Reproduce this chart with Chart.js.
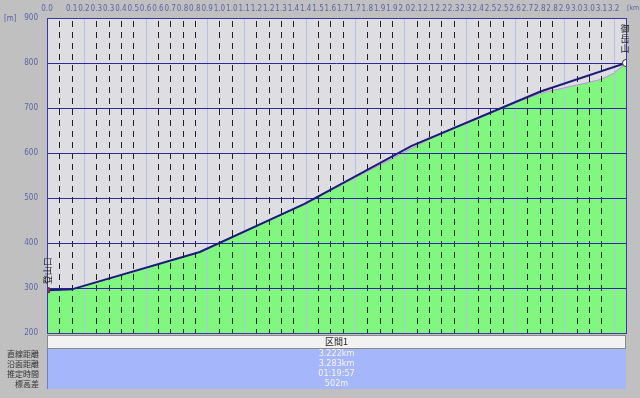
<!DOCTYPE html>
<html><head><meta charset="utf-8">
<script src="https://cdn.jsdelivr.net/npm/chart.js@4.4.1/dist/chart.umd.min.js"></script>
<style>
html,body{margin:0;padding:0;background:#c0c0c0;}
#wrap{width:640px;height:398px;position:relative;}
</style></head>
<body><div id="wrap"><canvas id="c" width="640" height="398"></canvas></div>
<script>
// ---- data ----
const xTickLabels = ["0.0","","0.1","0.2","0.3","0.3","0.4","0.5","0.6","0.6","0.7","0.8","0.8","0.9","1.0","1.0","1.1","1.2","1.2","1.3","1.4","1.4","1.5","1.6","1.7","1.7","1.8","1.9","1.9","2.0","2.1","2.1","2.2","2.3","2.3","2.4","2.5","2.5","2.6","2.7","2.8","2.8","2.9","3.0","3.0","3.1","3.2",""];
const terrainElev = [293,295,296,304,312,320,328,336,344,352,360,368,376,387,399,412,424,437,449,462,475,487,501,516,531,545,559,573,587,602,616,630,642,654,665,676,688,700,711,722,732,739,745,751,757,764,777,800];
const routeIdx = [0,2,12.4,20.9,29.6,40,47];
const routeElev = [295,297,380,487,616,736,800];
const lightGridIdx = [3,8,13,16,21,25,29,34,38,42,46];
const tableHeader = "区間1";
const tableLabels = ["直線距離","沿面距離","推定時間","標高差"];
const tableValues = ["3.222km","3.283km","01:19:57","502m"];
const startLabel = "登山口";
const endLabel = "御岳山";

const terrainPts = terrainElev.map((v,i)=>({x:i,y:v}));
const routePts = routeIdx.map((x,i)=>({x:x,y:routeElev[i]}));
const FONT = "'Liberation Sans Narrow','DejaVu Sans Condensed','Liberation Sans',sans-serif";

const gridPlugin = {
  id:'gridOver',
  beforeDraw(chart){
    const {ctx, chartArea:a} = chart;
    ctx.save();
    ctx.fillStyle = '#dedee2';
    ctx.fillRect(a.left, a.top, a.right-a.left, a.bottom-a.top);
    ctx.restore();
  },
  afterDatasetDraw(chart, args){
    if(args.index !== 0) return;
    const {ctx, chartArea:a, scales} = chart;
    const xs = scales.x, ys = scales.y;
    ctx.save();
    ctx.beginPath(); ctx.rect(a.left,a.top,a.right-a.left,a.bottom-a.top); ctx.clip();
    for(let i=1;i<xTickLabels.length-1;i++){
      const x = Math.round(xs.getPixelForValue(i))+0.5;
      ctx.beginPath();
      if(lightGridIdx.includes(i)){ ctx.setLineDash([]); ctx.strokeStyle='#b8c0ea'; }
      else { ctx.setLineDash([6,5]); ctx.lineDashOffset=-3; ctx.strokeStyle='#202020'; }
      ctx.lineWidth=1;
      ctx.moveTo(x,a.top); ctx.lineTo(x,a.bottom); ctx.stroke();
    }
    ctx.setLineDash([]);
    ctx.strokeStyle='#2a2aa0';
    ys.ticks.forEach(t=>{
      const y = Math.round(ys.getPixelForValue(t.value))+0.5;
      ctx.beginPath(); ctx.moveTo(a.left,y); ctx.lineTo(a.right,y); ctx.stroke();
    });
    ctx.restore();
  },
  afterDraw(chart){
    const {ctx, chartArea:a, scales} = chart;
    const xs = scales.x, ys = scales.y;
    ctx.save();
    ctx.strokeStyle='#3838a8'; ctx.lineWidth=1;
    ctx.strokeRect(Math.round(a.left)+0.5, Math.round(a.top)+0.5, Math.round(a.right-a.left), Math.round(a.bottom-a.top));
    ctx.fillStyle='#5a64a8'; ctx.font='8px '+FONT; ctx.textBaseline='middle';
    ctx.textAlign='left'; ctx.fillText('[m]',4,19);
    ctx.font='7px '+FONT;
    ctx.fillText('[km]',a.right+1,8);
    ctx.fillStyle='#202020'; ctx.font='9px "Noto Sans CJK JP",sans-serif';
    const sx = xs.getPixelForValue(routeIdx[0]), sy = ys.getPixelForValue(routeElev[0]);
    ctx.save(); ctx.translate(sx+1, sy-6); ctx.rotate(-Math.PI/2); ctx.textAlign='left'; ctx.fillText(startLabel,0,0); ctx.restore();
    const ex = xs.getPixelForValue(routeIdx[routeIdx.length-1]), ey = ys.getPixelForValue(routeElev[routeElev.length-1]);
    ctx.textAlign='center';
    Array.from(endLabel).forEach((ch,k)=>{ ctx.fillText(ch, ex-1, ey-34+k*10); });
    const L = Math.round(a.left), R = Math.round(a.right);
    const top = Math.round(a.bottom)+2;
    ctx.fillStyle='#f2f2f2'; ctx.fillRect(L, top, R-L, 13);
    ctx.strokeStyle='#8a8a8a'; ctx.strokeRect(L+0.5, top+0.5, R-L-1, 13);
    ctx.fillStyle='#a6b6fa'; ctx.fillRect(L, top+14, R-L, 40);
    ctx.strokeStyle='#7080c0'; ctx.beginPath(); ctx.moveTo(L+0.5, top+14); ctx.lineTo(L+0.5, top+54); ctx.stroke();
    ctx.font='9px "Noto Sans CJK JP",sans-serif'; ctx.textAlign='center'; ctx.fillStyle='#202020';
    ctx.fillText(tableHeader, (L+R)/2, top+7);
    tableLabels.forEach((t,k)=>{
      const y = top+19+k*10;
      ctx.font='8px "Noto Sans CJK JP",sans-serif';
      ctx.textAlign='right'; ctx.fillStyle='#303030'; ctx.fillText(t, L-8, y);
      ctx.font='9px '+FONT;
      ctx.textAlign='center'; ctx.fillStyle='#f6f6f6'; ctx.fillText(tableValues[k], (L+R)/2, y);
    });
    ctx.restore();
  }
};

new Chart(document.getElementById('c'), {
  type:'line',
  data:{datasets:[
    {label:'terrain', data:terrainPts, fill:'start', backgroundColor:'#80f880', borderColor:'#c488e0', borderWidth:1, pointRadius:0, tension:0, order:1},
    {label:'route', data:routePts, fill:false, borderColor:'#1c1c78', borderWidth:2, tension:0, order:0,
      pointRadius: routeIdx.map((v,i)=> (i===0||i===routeIdx.length-1)?3.5:0),
      pointStyle: routeIdx.map((v,i)=> i===0?'rect':'circle'),
      pointBackgroundColor: routeIdx.map((v,i)=> i===0?'#c83232':'#ffffff'),
      pointBorderColor: routeIdx.map((v,i)=> i===0?'#603030':'#303030'),
      pointBorderWidth:1}
  ]},
  options:{
    responsive:false, animation:false,
    layout:{padding:{left:0,right:14,top:0,bottom:65}},
    plugins:{legend:{display:false}, tooltip:{enabled:false}},
    scales:{
      x:{type:'linear', position:'top', min:0, max:xTickLabels.length-1,
        afterFit(s){ s.height=18; },
        grid:{display:false, drawTicks:false}, border:{display:false},
        ticks:{stepSize:1, autoSkip:false, maxRotation:0, padding:4, color:'#5a64a8',
          font:{size:8, family:FONT},
          callback:(v)=> xTickLabels[v] ?? ''}},
      y:{min:200, max:900,
        afterFit(s){ s.width=47; },
        grid:{display:false, drawTicks:false}, border:{display:false},
        ticks:{stepSize:100, padding:9, color:'#5a64a8', font:{size:8, family:FONT}}}
    }
  },
  plugins:[gridPlugin]
});
</script></body></html>
